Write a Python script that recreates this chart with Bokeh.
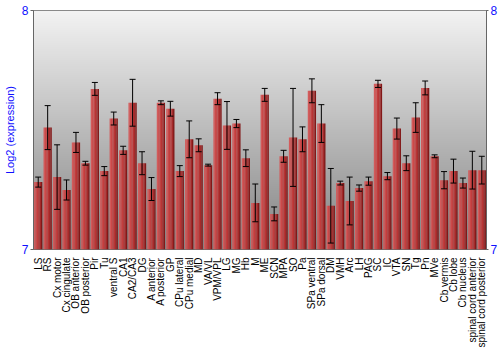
import numpy as np
from bokeh.plotting import figure
from bokeh.models import (ColumnDataSource, FactorRange, Range1d, LinearAxis,
                          FixedTicker, Whisker, TeeHead)
from bokeh.transform import dodge
from bokeh.embed import file_html
from bokeh.resources import INLINE

regions = ["LS", "RS", "Cx motor", "Cx cingulate", "OB anterior", "OB posterior",
           "Pir", "Tu", "ventral S", "CA1", "CA2/CA3", "DG", "A anterior",
           "A posterior", "GP", "CPu lateral", "CPu medial", "MD", "VA/VL",
           "VPM/VPL", "LG", "MG", "Hb", "M", "ME", "SCN", "MPA", "SO", "Pa",
           "SPa ventral", "SPa dorsal", "DM", "VMH", "Arc", "LH", "PAG", "SC",
           "IC", "VTA", "SN", "Tg", "Pn", "MVe", "Cb vermis", "Cb lobe",
           "Cb nucleus", "spinal cord anterior", "spinal cord posterior"]

means = [7.282, 7.510, 7.303, 7.249, 7.448, 7.361, 7.672, 7.328, 7.548, 7.415,
         7.614, 7.361, 7.253, 7.614, 7.589, 7.328, 7.461, 7.436, 7.353, 7.631,
         7.519, 7.527, 7.382, 7.195, 7.647, 7.149, 7.390, 7.469, 7.461, 7.664,
         7.527, 7.183, 7.278, 7.203, 7.257, 7.286, 7.693, 7.307, 7.506, 7.361,
         7.552, 7.676, 7.390, 7.290, 7.328, 7.278, 7.332, 7.332]

errors = [0.021, 0.092, 0.135, 0.042, 0.042, 0.008, 0.027, 0.019, 0.027, 0.017,
          0.098, 0.048, 0.048, 0.008, 0.031, 0.023, 0.077, 0.027, 0.004, 0.025,
          0.100, 0.017, 0.035, 0.079, 0.027, 0.029, 0.025, 0.205, 0.052, 0.050,
          0.079, 0.156, 0.008, 0.100, 0.013, 0.017, 0.015, 0.015, 0.044, 0.031,
          0.062, 0.029, 0.006, 0.036, 0.050, 0.021, 0.079, 0.058]

y_ticks = [7, 8]
y_label = "Log2 (expression)"

lows = [m - e for m, e in zip(means, errors)]
highs = [m + e for m, e in zip(means, errors)]

src = ColumnDataSource(dict(region=regions, mean=means, lo=lows, hi=highs))

FONT = "Liberation Sans"
BLUE = "#1010ff"
AXIS_GRAY = "#666666"

p = figure(width=500, height=350, x_range=FactorRange(*regions),
           y_range=Range1d(y_ticks[0], y_ticks[-1]),
           output_backend="svg", toolbar_location=None,
           min_border_left=27, min_border_right=14, min_border_top=10,
           min_border_bottom=99)

# vertical background gradient (light at top, darker at bottom)
n = 240
top_c = np.array([243, 243, 243], dtype=float)
bot_c = np.array([132, 132, 132], dtype=float)
t = np.linspace(0.0, 1.0, n)[:, None]
cols = (bot_c + (top_c - bot_c) * t).astype(np.uint8)
img = np.empty((n, 1), dtype=np.uint32)
view = img.view(dtype=np.uint8).reshape((n, 1, 4))
view[:, 0, 0] = cols[:, 0]
view[:, 0, 1] = cols[:, 1]
view[:, 0, 2] = cols[:, 2]
view[:, 0, 3] = 255
p.image_rgba(image=[img], x=0, y=y_ticks[0], dw=len(regions),
             dh=y_ticks[-1] - y_ticks[0])

# bars with a horizontal shading made of stripes
stripe_colors = ["#d35b5b", "#cb4949", "#c23e3e", "#b73535", "#a62a2a", "#821818"]
bw = 0.87
sw = bw / len(stripe_colors)
for k, c in enumerate(stripe_colors):
    off = -bw / 2 + sw * (k + 0.5)
    p.vbar(x=dodge("region", off, range=p.x_range), top="mean",
           bottom=y_ticks[0], width=sw * 1.05, source=src,
           fill_color=c, line_color=None)

w = Whisker(source=src, base="region", upper="hi", lower="lo",
            line_color="black", line_width=1, level="overlay",
            upper_head=TeeHead(size=6, line_color="black", line_width=1),
            lower_head=TeeHead(size=6, line_color="black", line_width=1))
p.add_layout(w)

p.xgrid.visible = False
p.ygrid.visible = False
p.outline_line_color = AXIS_GRAY
p.background_fill_color = "#bbbbbb"

# left axis
ya = p.yaxis[0]
ya.ticker = FixedTicker(ticks=y_ticks)
ya.axis_label = y_label
ya.axis_label_text_color = BLUE
ya.axis_label_text_font = FONT
ya.axis_label_text_font_style = "normal"
ya.axis_label_text_font_size = "11px"
ya.axis_label_standoff = 3
ya.major_label_text_color = BLUE
ya.major_label_text_font = FONT
ya.major_label_text_font_size = "12px"
ya.major_label_standoff = 2
ya.major_tick_in = 0
ya.major_tick_out = 3
ya.minor_tick_line_color = None
ya.axis_line_color = AXIS_GRAY
ya.major_tick_line_color = AXIS_GRAY

# right axis
ra = LinearAxis(ticker=FixedTicker(ticks=y_ticks))
ra.major_label_text_color = BLUE
ra.major_label_text_font = FONT
ra.major_label_text_font_size = "12px"
ra.major_label_standoff = 2
ra.major_tick_in = 0
ra.major_tick_out = 2
ra.minor_tick_line_color = None
ra.axis_line_color = AXIS_GRAY
ra.major_tick_line_color = AXIS_GRAY
p.add_layout(ra, "right")

# x axis
xa = p.xaxis[0]
xa.major_label_orientation = np.pi / 2
xa.major_label_text_font = FONT
xa.major_label_text_font_size = "10px"
xa.major_label_text_color = "black"
xa.major_label_standoff = 2
xa.axis_line_color = None
xa.major_tick_line_color = None
xa.minor_tick_line_color = None

open("out.html", "w").write(file_html(p, INLINE))
